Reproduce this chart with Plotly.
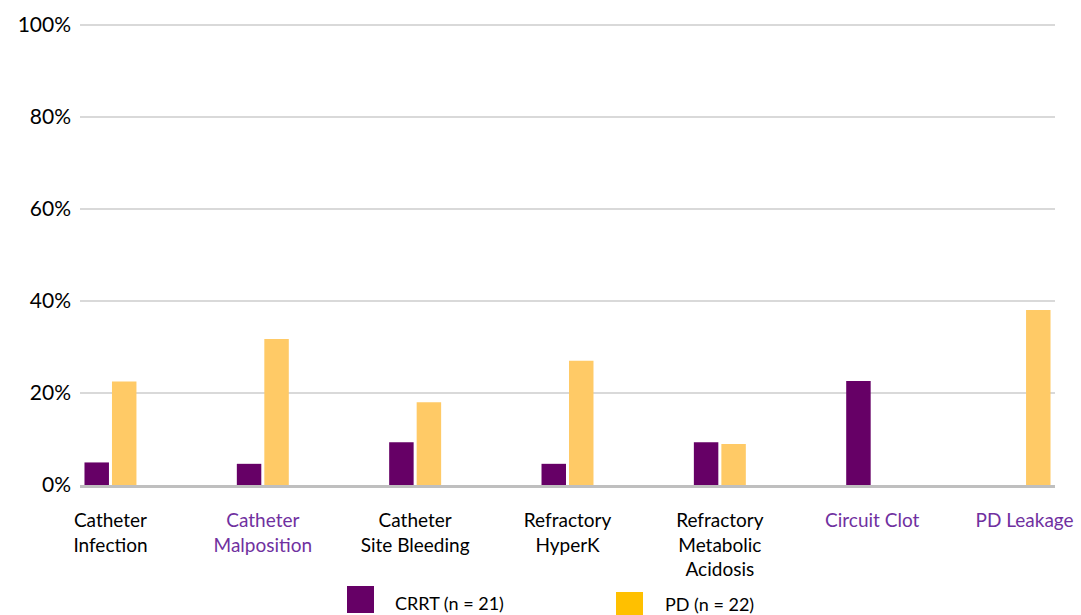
import plotly.graph_objects as go

# ---- data ----
categories = ["Catheter Infection", "Catheter Malposition", "Catheter Site Bleeding",
              "Refractory HyperK", "Refractory Metabolic Acidosis", "Circuit Clot", "PD Leakage"]
tick_lines = [["Catheter", "Infection"], ["Catheter", "Malposition"], ["Catheter", "Site Bleeding"],
              ["Refractory", "HyperK"], ["Refractory", "Metabolic", "Acidosis"], ["Circuit Clot"], ["PD Leakage"]]
highlighted = ["Catheter Malposition", "Circuit Clot", "PD Leakage"]
crrt_name = "CRRT (n = 21)"
pd_name = "PD (n = 22)"
crrt_values = [4.9, 4.6, 9.3, 4.6, 9.3, 22.6, 0]
pd_values = [22.5, 31.7, 18.0, 27.0, 8.9, 0, 38.0]
y_ticks = [0, 20, 40, 60, 80, 100]
y_tick_labels = ["0%", "20%", "40%", "60%", "80%", "100%"]

# ---- styles ----
FONT = "Lato, 'Open Sans', Arial, sans-serif"
CRRT_COLOR = "#660066"
PD_BAR_COLOR = "#FFCA66"
PD_LEGEND_COLOR = "#FFC000"
HL_COLOR = "#7030A0"
W, H = 1081, 615
L, R, T, B = 80, 26, 20, 130

def label(cat, lines):
    if cat in highlighted:
        return "<br>".join(f"<span style='color:{HL_COLOR}'>{ln}</span>" for ln in lines)
    return "<br>".join(lines)

ticktext = [label(c, l) for c, l in zip(categories, tick_lines)]

fig = go.Figure()
fig.add_trace(go.Bar(x=categories, y=crrt_values, name=crrt_name,
                     marker=dict(color=CRRT_COLOR, line=dict(width=0)), showlegend=False))
fig.add_trace(go.Bar(x=categories, y=pd_values, name=pd_name,
                     marker=dict(color=PD_BAR_COLOR, line=dict(width=0)), showlegend=False))

# manual legend (pixel positions converted to paper coords)
pw, ph = W - L - R, H - T - B
def px(x):
    return (x - L) / pw
def py(y):
    return (H - B - y) / ph

legend_items = [
    (crrt_name, CRRT_COLOR, 347, 586, 393, 603),
    (pd_name, PD_LEGEND_COLOR, 616, 592, 663, 604),
]
for name, col, sx, sy, tx, ty in legend_items:
    fig.add_shape(type="rect", xref="paper", yref="paper",
                  x0=px(sx), x1=px(sx + 27), y0=py(sy), y1=py(sy + 27),
                  fillcolor=col, line=dict(width=0))
    fig.add_annotation(xref="paper", yref="paper", x=px(tx), y=py(ty),
                       text=name, showarrow=False, xanchor="left", yanchor="middle",
                       font=dict(family=FONT, size=18, color="#000000"))

fig.update_layout(
    width=W, height=H,
    margin=dict(l=L, r=R, t=T, b=B, autoexpand=False),
    paper_bgcolor="white", plot_bgcolor="white",
    barmode="group", bargap=0.639, bargroupgap=0.11,
    font=dict(family=FONT, color="#000000"),
    showlegend=False,
)
fig.update_xaxes(
    type="category", categoryorder="array", categoryarray=categories,
    tickmode="array", tickvals=categories, ticktext=ticktext,
    range=[-0.2, 6.2], showgrid=False, showline=True, linecolor="#BFBFBF", linewidth=3,
    ticks="", tickfont=dict(family=FONT, size=19, color="#000000"), automargin=False,
    ticklabelstandoff=16, fixedrange=True,
)
fig.update_yaxes(
    range=[0, 101], tickmode="array", tickvals=y_ticks, ticktext=y_tick_labels,
    showgrid=True, gridcolor="#D9D9D9", gridwidth=2, zeroline=False, showline=False,
    ticks="", tickfont=dict(family=FONT, size=21, color="#000000"), automargin=False,
    ticklabelstandoff=8, fixedrange=True,
)

fig.write_html("out.html")
